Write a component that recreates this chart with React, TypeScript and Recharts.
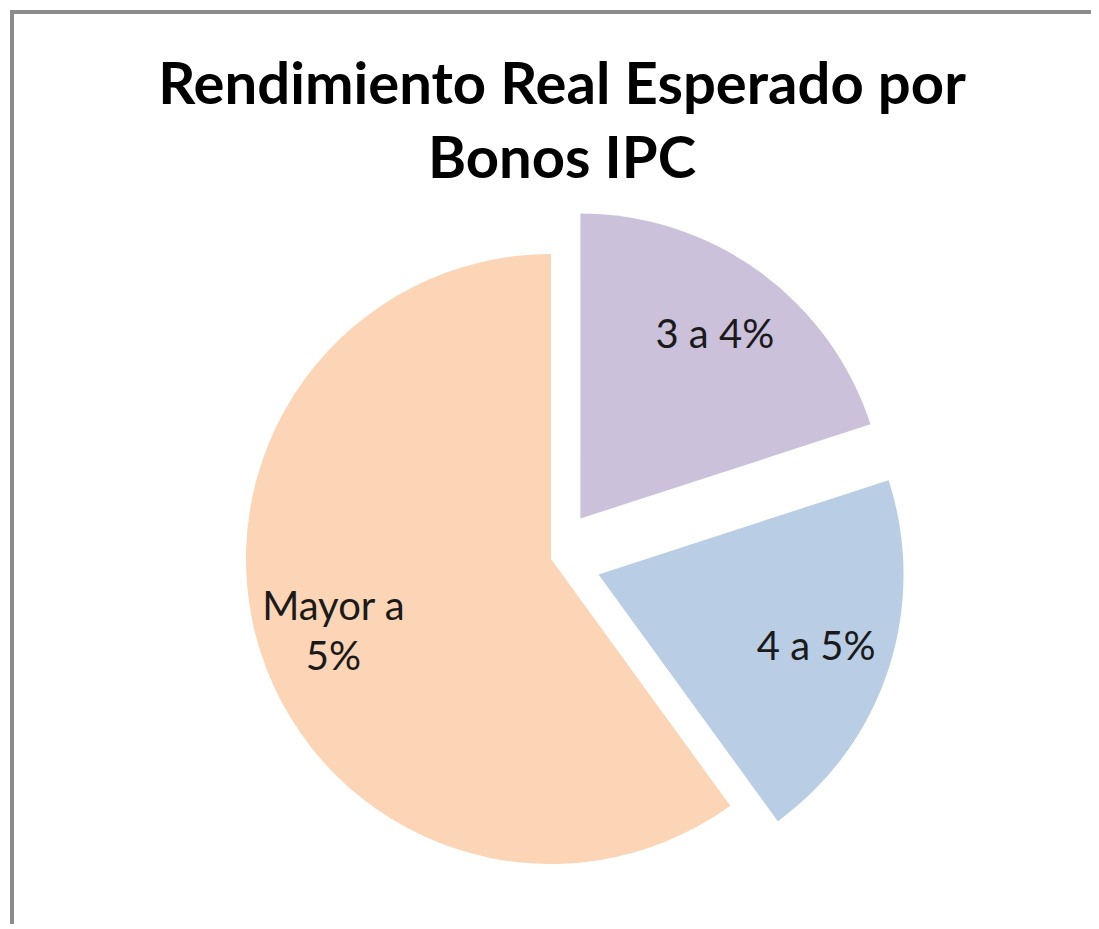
import { Pie, PieChart, Sector } from "recharts";

// slices in drawing order, clockwise from 12 o'clock
const categories = ["3 a 4%", "4 a 5%", "Mayor a 5%"];
const shares = [20, 20, 60];
const exploded = [true, true, false];
const colors = ["#CCC1DA", "#B9CDE5", "#FBD5B5"];
const titleLines = ["Rendimiento Real Esperado por", "Bonos IPC"];

const RAD = Math.PI / 180;
const EXPLODE = 50;
const FONT = "Lato, 'Open Sans', sans-serif";

const rows = categories.map((name, i) => ({
  name,
  value: shares[i],
  explode: exploded[i],
  fill: colors[i],
}));

function offset(midAngle: number, explode: boolean) {
  const d = explode ? EXPLODE : 0;
  return { dx: d * Math.cos(-midAngle * RAD), dy: d * Math.sin(-midAngle * RAD) };
}

// greedy wrap, Excel-style narrow label box
function wrap(text: string, max = 7) {
  const lines: string[] = [];
  let cur = "";
  for (const w of text.split(" ")) {
    const next = cur ? cur + " " + w : w;
    if (next.length > max && cur) {
      lines.push(cur);
      cur = w;
    } else cur = next;
  }
  if (cur) lines.push(cur);
  return lines;
}

function ExplodedSector(props: any) {
  const { dx, dy } = offset(props.midAngle, props.payload?.explode ?? exploded[props.index]);
  return <Sector {...props} cx={props.cx + dx} cy={props.cy + dy} stroke="none" />;
}

function renderLabel(props: any) {
  const { cx, cy, midAngle, outerRadius, index } = props;
  const { dx, dy } = offset(midAngle, exploded[index]);
  const r = outerRadius * 0.75;
  const x = cx + dx + r * Math.cos(-midAngle * RAD);
  const y = cy + dy + r * Math.sin(-midAngle * RAD);
  const lines = wrap(categories[index]);
  const lh = 50;
  const top = y - ((lines.length - 1) * lh) / 2;
  return (
    <text
      key={`lbl-${index}`}
      x={x}
      y={top}
      textAnchor="middle"
      dominantBaseline="central"
      fill="#1a1a1a"
      fontSize={40}
      fontFamily={FONT}
    >
      {lines.map((l, i) => (
        <tspan key={i} x={x} dy={i === 0 ? 0 : lh}>
          {l}
        </tspan>
      ))}
    </text>
  );
}

export default function App() {
  return (
    <div style={{ padding: "2px 0 0 2px" }}>
      <style>{"body{overflow:hidden}"}</style>
      <div
        style={{
          borderLeft: "4px solid #8c8c8c",
          borderTop: "4px solid #8c8c8c",
          width: 1090,
          height: 910,
          background: "#fff",
        }}
      >
        <PieChart width={1090} height={910} margin={{ top: 0, right: 0, bottom: 0, left: 0 }}>
          <text
            x={548}
            y={90}
            textAnchor="middle"
            fontFamily={FONT}
            fontWeight={700}
            fontSize={58}
            fill="#000"
          >
            <tspan x={548}>{titleLines[0]}</tspan>
            <tspan x={548} dy={74}>
              {titleLines[1]}
            </tspan>
          </text>
          <Pie
            data={rows}
            dataKey="value"
            nameKey="name"
            cx={537}
            cy={545}
            outerRadius={305}
            startAngle={90}
            endAngle={-270}
            stroke="none"
            shape={ExplodedSector}
            label={renderLabel}
            labelLine={false}
            isAnimationActive={false}
          />
        </PieChart>
      </div>
    </div>
  );
}
